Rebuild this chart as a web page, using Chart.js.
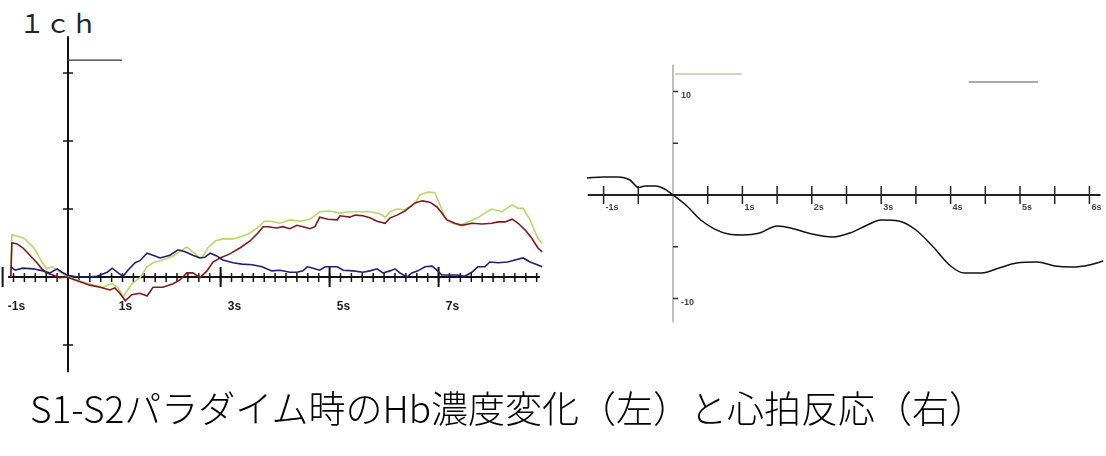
<!DOCTYPE html>
<html lang="ja">
<head>
<meta charset="utf-8">
<title>S1-S2パラダイム時のHb濃度変化と心拍反応</title>
<script src="https://cdn.jsdelivr.net/npm/chart.js@4/dist/chart.umd.min.js"></script>
<style>
  html, body { margin: 0; padding: 0; background: #fff; }
  body { width: 1106px; height: 456px; position: relative; overflow: hidden; }
  #hbChart { position: absolute; left: 0; top: 0; }
  #hrChart { position: absolute; left: 580px; top: 55px; }
  .ch { position: absolute; left: 19px; top: 9px; font: 26px/1 "Noto Sans CJK JP"; color: #222; }
  .caption { position: absolute; left: 30px; top: 389px; font: 300 37px/1 "Noto Sans CJK JP"; color: #000; white-space: nowrap; }
</style>
</head>
<body>
<div class="ch">１ｃｈ</div>
<canvas id="hbChart" width="560" height="390"></canvas>
<canvas id="hrChart" width="526" height="280"></canvas>
<div class="caption">S1-S2パラダイム時のHb濃度変化（左）と心拍反応（右）</div>

<script>
// --- Hb (left), time in s ---
const totalHbT = [-1.05,-1.03,-0.88,-0.79,-0.64,-0.57,-0.48,-0.39,-0.28,-0.18,-0.02,0.22,0.46,0.64,0.72,0.81,0.92,1.01,1.17,1.32,1.45,1.56,1.74,1.93,2.06,2.18,2.29,2.42,2.48,2.57,2.70,2.84,3.03,3.16,3.30,3.47,3.61,3.71,3.89,4.07,4.26,4.44,4.62,4.81,4.99,5.17,5.36,5.54,5.72,5.82,5.91,6.04,6.18,6.37,6.46,6.61,6.73,6.79,6.92,7.05,7.19,7.34,7.52,7.65,7.78,7.96,8.15,8.26,8.35,8.48,8.62,8.70];
const totalHb  = [0,0.62,0.59,0.56,0.44,0.35,0.22,0.12,0.15,0.09,0.01,-0.06,-0.12,-0.15,-0.12,-0.10,-0.16,-0.29,-0.10,-0.01,0.15,0.21,0.25,0.31,0.38,0.44,0.37,0.28,0.31,0.43,0.53,0.56,0.56,0.59,0.63,0.72,0.82,0.82,0.79,0.84,0.82,0.85,0.96,0.97,0.94,0.96,0.96,0.96,0.93,0.88,0.96,1.00,0.99,1.09,1.21,1.25,1.24,1.13,0.87,0.79,0.76,0.81,0.87,0.94,1.00,0.96,1.06,1.01,1.01,0.84,0.57,0.50];

const oxyHbT = [-1.05,-1.03,-0.94,-0.83,-0.70,-0.57,-0.48,-0.39,-0.28,-0.15,-0.02,0.22,0.40,0.59,0.77,0.86,0.95,1.05,1.17,1.32,1.45,1.56,1.74,1.93,2.06,2.18,2.29,2.42,2.55,2.66,2.79,2.97,3.16,3.34,3.49,3.58,3.67,3.83,3.94,4.07,4.20,4.31,4.44,4.53,4.62,4.77,4.94,4.99,5.17,5.27,5.41,5.54,5.67,5.82,5.91,6.04,6.18,6.37,6.50,6.64,6.77,6.86,6.95,7.10,7.23,7.41,7.60,7.78,7.89,8.02,8.15,8.26,8.39,8.51,8.62,8.70];
const oxyHb  = [0,0.50,0.49,0.43,0.32,0.21,0.12,0.06,0.03,-0.01,0,-0.07,-0.12,-0.15,-0.19,-0.16,-0.24,-0.35,-0.26,-0.24,-0.28,-0.15,-0.15,-0.10,-0.04,0.06,0.06,-0.01,0.09,0.22,0.28,0.34,0.43,0.53,0.65,0.74,0.74,0.72,0.74,0.71,0.76,0.74,0.71,0.74,0.88,0.85,0.84,0.90,0.88,0.91,0.90,0.87,0.82,0.79,0.87,0.91,0.97,1.09,1.12,1.10,1.03,0.94,0.84,0.79,0.76,0.79,0.78,0.79,0.81,0.81,0.85,0.79,0.69,0.57,0.43,0.37];

const deoxyHbT = [-1.05,-0.97,-0.83,-0.64,-0.46,-0.33,-0.20,-0.11,-0.02,0.17,0.35,0.53,0.72,0.81,0.92,1.01,1.10,1.23,1.32,1.45,1.56,1.69,1.87,2.02,2.15,2.29,2.42,2.51,2.61,2.73,2.84,3.03,3.19,3.38,3.56,3.74,3.89,4.07,4.20,4.31,4.39,4.50,4.62,4.72,4.81,4.94,5.05,5.23,5.41,5.54,5.67,5.78,5.91,6.00,6.09,6.22,6.31,6.42,6.55,6.68,6.77,6.86,6.97,7.14,7.28,7.41,7.52,7.65,7.74,7.89,8.07,8.20,8.35,8.48,8.61,8.70];
const deoxyHb  = [0.15,0.10,0.13,0.12,0.09,0.06,0.12,0.07,0.03,0,0,0.01,0.07,0.13,0.06,0.01,0.10,0.21,0.24,0.35,0.32,0.28,0.32,0.40,0.37,0.32,0.28,0.29,0.35,0.31,0.25,0.21,0.19,0.18,0.15,0.09,0.10,0.07,0.07,0.09,0.15,0.13,0.10,0.15,0.15,0.15,0.10,0.09,0.07,0.09,0.12,0.06,0.09,0.12,0.06,0,0.06,0.09,0.15,0.16,0.10,0.03,0.03,0.03,0.01,0.07,0.15,0.15,0.22,0.21,0.22,0.25,0.28,0.22,0.18,0.15];

const hbTickValues = [-1, 1, 3, 5, 7];
const hbTickLabels = ['-1s', '1s', '3s', '5s', '7s'];
const hbMajorTicks = [-1.2, 2.8, 4.8, 6.8];
const hbYTicks = [3, 2, 1, -1];

// --- heart rate response (right) ---
const hrTime  = [-1.24,-1.0,-0.8,-0.62,-0.5,-0.4,-0.25,-0.12,0,0.2,0.4,0.6,0.8,1.0,1.25,1.5,1.75,2.0,2.3,2.55,2.8,3.0,3.25,3.5,3.75,4.0,4.2,4.45,4.7,4.95,5.25,5.5,5.75,6.0,6.2];
const hrValue = [1.64,1.74,1.74,1.45,0.72,0.87,0.87,0.58,0,-1.06,-2.42,-3.29,-3.77,-3.86,-3.67,-3.0,-3.29,-3.77,-4.06,-3.67,-2.9,-2.42,-2.51,-3.38,-5.02,-6.86,-7.54,-7.54,-7.05,-6.57,-6.47,-6.86,-6.96,-6.76,-6.38];

const hrTickValues = [-1, 1, 2, 3, 4, 5, 6];
const hrTickLabels = ['-1s', '1s', '2s', '3s', '4s', '5s', '6s'];
const hrYTicks = [10, 5, -5, -10];
const hrYLabels = { '10': '10', '-10': '-10' };

function pairs(xs, ys) {
    return xs.map((x, i) => ({ x: x, y: ys[i] }));
}

function seg(ctx, x1, y1, x2, y2, color, w) {
    ctx.save();
    ctx.strokeStyle = color;
    ctx.lineWidth = w;
    ctx.beginPath();
    ctx.moveTo(x1, y1);
    ctx.lineTo(x2, y2);
    ctx.stroke();
    ctx.restore();
}

// Achsen im Ursprung, wie im Original
const hbAxes = {
    id: 'hbAxes',
    beforeDatasetsDraw(chart) {
        const ctx = chart.ctx;
        const sx = chart.scales.x, sy = chart.scales.y;
        const x0 = sx.getPixelForValue(0), y0 = sy.getPixelForValue(0);

        seg(ctx, x0, sy.getPixelForValue(3.54), x0, sy.getPixelForValue(-1.4), '#111', 2);
        seg(ctx, sx.getPixelForValue(-1.1), y0, sx.getPixelForValue(8.66), y0, '#111', 2);

        for (let i = -5; i <= 43; i++) {
            const px = sx.getPixelForValue(i * 0.2);
            seg(ctx, px, y0 - 4, px, y0 + 5, '#111', 1.5);
        }
        hbMajorTicks.forEach(v => {
            const px = sx.getPixelForValue(v);
            seg(ctx, px, y0 - 10, px, y0 + 10, '#111', 2);
        });
        hbYTicks.forEach(v => {
            const py = sy.getPixelForValue(v);
            seg(ctx, x0 - 5, py, x0 + 5, py, '#111', 1.5);
        });

        // Markierung oben
        const my = sy.getPixelForValue(3.19);
        seg(ctx, x0, my, sx.getPixelForValue(0.99), my, '#333', 1.3);

        ctx.save();
        ctx.fillStyle = '#1a1a1a';
        ctx.font = 'bold 12px "Liberation Sans", Arial, sans-serif';
        ctx.textAlign = 'center';
        ctx.textBaseline = 'middle';
        hbTickValues.forEach((v, i) => {
            ctx.fillText(hbTickLabels[i], sx.getPixelForValue(v) + 3, y0 + 30);
        });
        ctx.restore();
    }
};

const hrAxes = {
    id: 'hrAxes',
    beforeDatasetsDraw(chart) {
        const ctx = chart.ctx;
        const sx = chart.scales.x, sy = chart.scales.y;
        const x0 = sx.getPixelForValue(0), y0 = sy.getPixelForValue(0);

        seg(ctx, x0, sy.getPixelForValue(12.6), x0, sy.getPixelForValue(-12.3), '#a8a8a8', 1.5);
        seg(ctx, sx.getPixelForValue(-1.23), y0, sx.getPixelForValue(6.16), y0, '#222', 2);

        for (let i = -2; i <= 12; i++) {
            if (i === 0) continue;
            const px = sx.getPixelForValue(i * 0.5);
            seg(ctx, px, y0 - 9, px, y0 + 9, '#222', 1.5);
        }
        hrYTicks.forEach(v => {
            const py = sy.getPixelForValue(v);
            seg(ctx, x0, py, x0 + 5, py, '#333', 1.5);
        });

        // Markierungen oben
        let my = sy.getPixelForValue(11.69);
        seg(ctx, sx.getPixelForValue(0.03), my, sx.getPixelForValue(0.99), my, '#d2bcb4', 1.5);
        my = sy.getPixelForValue(10.92);
        seg(ctx, sx.getPixelForValue(4.26), my, sx.getPixelForValue(5.26), my, '#8e8e86', 1.5);

        ctx.save();
        ctx.fillStyle = '#444';
        ctx.font = 'bold 9px "Liberation Sans", Arial, sans-serif';
        ctx.textAlign = 'left';
        ctx.textBaseline = 'middle';
        hrTickValues.forEach((v, i) => {
            ctx.fillText(hrTickLabels[i], sx.getPixelForValue(v) + 2, y0 + 13);
        });
        hrYTicks.forEach(v => {
            if (hrYLabels[v]) ctx.fillText(hrYLabels[v], x0 + 8, sy.getPixelForValue(v) + 4);
        });
        ctx.restore();
    }
};

const baseOptions = {
    responsive: false,
    animation: false,
    devicePixelRatio: 1,
    layout: { padding: 0 },
    elements: { point: { radius: 0 } },
    plugins: { legend: { display: false }, tooltip: { enabled: false } }
};

document.addEventListener('DOMContentLoaded', () => {
    new Chart(document.getElementById('hbChart'), {
        type: 'line',
        data: {
            datasets: [
                { label: 'deoxy-Hb', data: pairs(deoxyHbT, deoxyHb), borderColor: '#20206e', borderWidth: 1.6, tension: 0 },
                { label: 'oxy-Hb', data: pairs(oxyHbT, oxyHb), borderColor: '#7a1c1e', borderWidth: 1.6, tension: 0 },
                { label: 'total-Hb', data: pairs(totalHbT, totalHb), borderColor: '#b4d86a', borderWidth: 1.6, tension: 0 }
            ]
        },
        options: Object.assign({}, baseOptions, {
            scales: {
                x: { type: 'linear', min: -1.248, max: 9.028, display: false },
                y: { type: 'linear', min: -1.662, max: 4.074, display: false }
            }
        }),
        plugins: [hbAxes]
    });

    new Chart(document.getElementById('hrChart'), {
        type: 'line',
        data: {
            datasets: [
                { label: 'HR', data: pairs(hrTime, hrValue), borderColor: '#111', borderWidth: 1.5, cubicInterpolationMode: 'monotone' }
            ]
        },
        options: Object.assign({}, baseOptions, {
            scales: {
                x: { type: 'linear', min: -1.34, max: 6.239, display: false },
                y: { type: 'linear', min: -13.527, max: 13.527, display: false }
            }
        }),
        plugins: [hrAxes]
    });
});
</script>
</body>
</html>
